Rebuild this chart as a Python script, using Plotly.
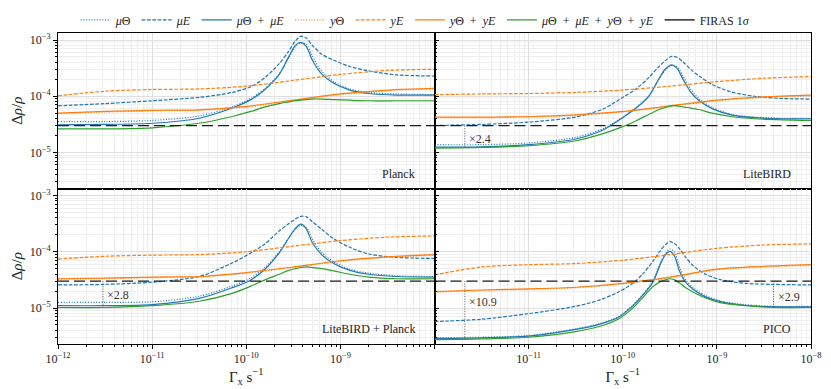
import math
import plotly.graph_objects as go
from plotly.subplots import make_subplots

# ---- values (Gamma_x in s^-1, Delta rho / rho) ----
FIRAS = 3e-5

GAMMA_COARSE = [1e-12, 3.16e-12, 1e-11, 3.16e-11, 1e-10, 3.16e-10, 1e-9, 3.16e-9, 1e-8]

# Planck
GAMMA_PLANCK = [1e-12, 3.16e-12, 1e-11, 3.16e-11, 7.08e-11, 1.12e-10, 1.58e-10, 2.24e-10, 2.82e-10, 3.31e-10,
                3.80e-10, 4.37e-10, 5.01e-10, 6.31e-10, 8.51e-10, 1.26e-9, 2.0e-9, 3.98e-9, 1e-8]
PLANCK_MU_THETA = [3.55e-5, 3.55e-5, 3.72e-5, 4.47e-5, 6.46e-5, 9.12e-5, 1.38e-4, 2.51e-4, 4.79e-4, 7.59e-4,
                   8.91e-4, 8.32e-4, 5.25e-4, 2.82e-4, 1.82e-4, 1.35e-4, 1.17e-4, 1.10e-4, 1.07e-4]
PLANCK_MU_E = [6.76e-5, 7.41e-5, 8.32e-5, 9.55e-5, 1.17e-4, 1.48e-4, 2.14e-4, 3.80e-4, 6.31e-4, 9.55e-4,
               1.17e-3, 1.07e-3, 8.13e-4, 5.62e-4, 4.37e-4, 3.39e-4, 2.82e-4, 2.40e-4, 2.29e-4]
PLANCK_MU = [3.09e-5, 3.16e-5, 3.31e-5, 4.07e-5, 6.17e-5, 8.71e-5, 1.32e-4, 2.45e-4, 5.01e-4, 7.94e-4,
             9.12e-4, 7.59e-4, 4.47e-4, 2.51e-4, 1.70e-4, 1.29e-4, 1.12e-4, 1.05e-4, 1.05e-4]
PLANCK_TOTAL = [2.63e-5, 2.63e-5, 2.75e-5, 3.31e-5, 4.37e-5, 5.37e-5, 6.46e-5, 7.41e-5, 7.94e-5, 8.32e-5,
                8.51e-5, 8.71e-5, 8.91e-5, 8.91e-5, 8.71e-5, 8.51e-5, 8.32e-5, 8.32e-5, 8.32e-5]
PLANCK_Y_THETA = [4.90e-5, 5.25e-5, 5.50e-5, 5.62e-5, 6.46e-5, 8.32e-5, 1.07e-4, 1.26e-4, 1.35e-4]
PLANCK_Y_E = [1.02e-4, 1.23e-4, 1.32e-4, 1.35e-4, 1.51e-4, 1.91e-4, 2.45e-4, 2.88e-4, 3.02e-4]
PLANCK_Y = [5.01e-5, 5.37e-5, 5.62e-5, 5.75e-5, 6.61e-5, 8.51e-5, 1.10e-4, 1.29e-4, 1.38e-4]

# LiteBIRD
GAMMA_LB = [1e-12, 3.16e-12, 1e-11, 3.16e-11, 6.31e-11, 1e-10, 1.41e-10, 1.91e-10, 2.40e-10, 2.82e-10,
            3.31e-10, 3.80e-10, 4.37e-10, 5.25e-10, 6.61e-10, 8.91e-10, 1.41e-9, 2.51e-9, 5.01e-9, 1e-8]
LB_MU_THETA = [1.38e-5, 1.38e-5, 1.48e-5, 1.86e-5, 2.69e-5, 4.27e-5, 6.46e-5, 1.05e-4, 1.95e-4, 2.88e-4,
               3.55e-4, 3.31e-4, 2.29e-4, 1.35e-4, 8.71e-5, 6.31e-5, 4.79e-5, 4.27e-5, 4.07e-5, 4.07e-5]
LB_MU_E = [3.02e-5, 3.16e-5, 3.47e-5, 4.27e-5, 6.03e-5, 9.55e-5, 1.38e-4, 2.19e-4, 3.31e-4, 4.27e-4,
           5.13e-4, 4.90e-4, 4.07e-4, 3.02e-4, 2.24e-4, 1.62e-4, 1.20e-4, 1.0e-4, 9.12e-5, 8.91e-5]
LB_MU = [1.245e-5, 1.26e-5, 1.38e-5, 1.74e-5, 2.57e-5, 4.17e-5, 6.31e-5, 1.02e-4, 2.0e-4, 3.02e-4,
         3.63e-4, 3.09e-4, 2.0e-4, 1.20e-4, 8.13e-5, 6.03e-5, 4.68e-5, 4.17e-5, 3.98e-5, 3.98e-5]
LB_TOTAL = [1.20e-5, 1.23e-5, 1.32e-5, 1.62e-5, 2.19e-5, 2.88e-5, 3.72e-5, 4.79e-5, 5.75e-5, 6.31e-5,
            6.76e-5, 6.76e-5, 6.46e-5, 6.17e-5, 5.75e-5, 5.01e-5, 4.37e-5, 3.98e-5, 3.80e-5, 3.72e-5]
LB_Y_THETA = [4.17e-5, 4.17e-5, 4.27e-5, 4.57e-5, 5.25e-5, 6.61e-5, 8.32e-5, 9.55e-5, 1.02e-4]
LB_Y_E = [1.07e-4, 1.10e-4, 1.12e-4, 1.17e-4, 1.29e-4, 1.51e-4, 1.82e-4, 2.09e-4, 2.24e-4]
LB_Y = [4.27e-5, 4.27e-5, 4.37e-5, 4.68e-5, 5.37e-5, 6.76e-5, 8.51e-5, 9.77e-5, 1.05e-4]

# LiteBIRD + Planck
GAMMA_LBP = GAMMA_PLANCK
LBP_MU_THETA = [1.26e-5, 1.26e-5, 1.29e-5, 1.62e-5, 2.45e-5, 3.39e-5, 5.25e-5, 1.0e-4, 1.78e-4, 2.51e-4,
                2.95e-4, 2.69e-4, 1.70e-4, 9.77e-5, 6.61e-5, 4.90e-5, 4.17e-5, 3.72e-5, 3.63e-5]
LBP_MU_E = [2.57e-5, 2.63e-5, 2.88e-5, 3.63e-5, 6.31e-5, 9.55e-5, 1.38e-4, 2.34e-4, 3.16e-4, 3.80e-4,
            4.27e-4, 4.17e-4, 3.47e-4, 2.51e-4, 1.70e-4, 1.20e-4, 9.12e-5, 7.94e-5, 7.59e-5]
LBP_MU = [1.10e-5, 1.10e-5, 1.15e-5, 1.48e-5, 2.29e-5, 3.16e-5, 4.90e-5, 9.55e-5, 1.74e-4, 2.57e-4,
          3.09e-4, 2.51e-4, 1.48e-4, 8.91e-5, 6.17e-5, 4.68e-5, 3.98e-5, 3.63e-5, 3.55e-5]
LBP_TOTAL = [1.02e-5, 1.02e-5, 1.10e-5, 1.32e-5, 1.82e-5, 2.45e-5, 3.16e-5, 3.98e-5, 4.68e-5, 5.01e-5,
             5.25e-5, 5.37e-5, 5.25e-5, 5.01e-5, 4.57e-5, 3.98e-5, 3.55e-5, 3.31e-5, 3.31e-5]
LBP_Y_THETA = [3.24e-5, 3.31e-5, 3.47e-5, 3.55e-5, 4.17e-5, 5.25e-5, 6.76e-5, 7.94e-5, 8.71e-5]
LBP_Y_E = [7.41e-5, 8.32e-5, 8.71e-5, 8.91e-5, 1.0e-4, 1.26e-4, 1.58e-4, 1.82e-4, 1.91e-4]
LBP_Y = [3.31e-5, 3.39e-5, 3.55e-5, 3.63e-5, 4.27e-5, 5.37e-5, 6.92e-5, 8.13e-5, 8.91e-5]

# PICO
GAMMA_PICO = [1e-12, 3.16e-12, 1e-11, 3.16e-11, 5.62e-11, 8.91e-11, 1.26e-10, 1.66e-10, 2.09e-10, 2.51e-10,
              2.82e-10, 3.16e-10, 3.55e-10, 3.98e-10, 4.68e-10, 5.62e-10, 7.59e-10, 1.12e-9, 2.0e-9, 3.98e-9, 1e-8]
PICO_MU_THETA = [2.95e-6, 3.02e-6, 3.24e-6, 4.27e-6, 5.25e-6, 6.92e-6, 1.10e-5, 1.78e-5, 3.02e-5, 6.31e-5,
                 9.12e-5, 1.12e-4, 1.0e-4, 5.50e-5, 3.16e-5, 2.29e-5, 1.66e-5, 1.32e-5, 1.15e-5, 1.07e-5, 1.07e-5]
PICO_MU_E = [5.75e-6, 6.31e-6, 7.94e-6, 1.07e-5, 1.38e-5, 1.91e-5, 2.69e-5, 4.17e-5, 6.76e-5, 1.05e-4,
             1.32e-4, 1.51e-4, 1.41e-4, 1.15e-4, 7.94e-5, 5.62e-5, 3.98e-5, 3.16e-5, 2.75e-5, 2.63e-5, 2.57e-5]
PICO_MU = [2.88e-6, 2.95e-6, 3.16e-6, 4.17e-6, 5.13e-6, 6.76e-6, 1.07e-5, 1.74e-5, 2.88e-5, 6.03e-5,
           8.71e-5, 1.02e-4, 8.32e-5, 4.68e-5, 2.82e-5, 2.14e-5, 1.58e-5, 1.29e-5, 1.12e-5, 1.05e-5, 1.05e-5]
PICO_TOTAL = [2.75e-6, 2.82e-6, 3.02e-6, 3.80e-6, 4.68e-6, 6.31e-6, 9.77e-6, 1.58e-5, 2.40e-5, 2.95e-5,
              3.16e-5, 3.31e-5, 3.16e-5, 2.82e-5, 2.29e-5, 1.91e-5, 1.51e-5, 1.23e-5, 1.10e-5, 1.02e-5, 1.02e-5]
PICO_Y_THETA = [1.91e-5, 2.04e-5, 2.14e-5, 2.29e-5, 2.69e-5, 3.47e-5, 4.79e-5, 5.37e-5, 5.75e-5]
PICO_Y_E = [3.89e-5, 5.37e-5, 5.89e-5, 6.17e-5, 7.08e-5, 8.91e-5, 1.15e-4, 1.32e-4, 1.38e-4]
PICO_Y = [1.95e-5, 2.09e-5, 2.19e-5, 2.34e-5, 2.75e-5, 3.55e-5, 4.90e-5, 5.50e-5, 5.89e-5]

PANEL_NAMES = ["Planck", "LiteBIRD", "LiteBIRD + Planck", "PICO"]

# improvement factors w.r.t. FIRAS: (panel, Gamma, lower value, label)
GAP_PANEL = [2, 3, 4, 4]
GAP_GAMMA = [2.1e-12, 3.0e-12, 2.1e-12, 4.0e-9]
GAP_LOW = [1.245e-5, 1.07e-5, 2.75e-6, 1.03e-5]
GAP_LABEL = ["×2.4", "×2.8", "×10.9", "×2.9"]

BLUE, ORANGE, GREEN = "#1f77b4", "#ff7f0e", "#2ca02c"
FONT = "Liberation Serif"
TXT = "#222222"
PLUS = "\u2002+\u2002"

panels = [
    (1, 1, GAMMA_PLANCK, PLANCK_MU_THETA, PLANCK_MU_E, PLANCK_MU, PLANCK_TOTAL, PLANCK_Y_THETA, PLANCK_Y_E, PLANCK_Y),
    (1, 2, GAMMA_LB, LB_MU_THETA, LB_MU_E, LB_MU, LB_TOTAL, LB_Y_THETA, LB_Y_E, LB_Y),
    (2, 1, GAMMA_LBP, LBP_MU_THETA, LBP_MU_E, LBP_MU, LBP_TOTAL, LBP_Y_THETA, LBP_Y_E, LBP_Y),
    (2, 2, GAMMA_PICO, PICO_MU_THETA, PICO_MU_E, PICO_MU, PICO_TOTAL, PICO_Y_THETA, PICO_Y_E, PICO_Y),
]

fig = make_subplots(rows=2, cols=2, horizontal_spacing=0, vertical_spacing=0)

DOT = "1px,1.7px"
DASH = "3.7px,1.6px"

for i, (row, col, gam, mu_th, mu_e, mu, tot, y_th, y_e, y) in enumerate(panels):
    first = i == 0
    series = [
        (gam, mu_th, "<i>μ</i>Θ", BLUE, DOT),
        (gam, mu_e, "<i>μE</i>", BLUE, DASH),
        (gam, mu, "<i>μ</i>Θ" + PLUS + "<i>μE</i>", BLUE, "solid"),
        (GAMMA_COARSE, y_th, "<i>y</i>Θ", ORANGE, DOT),
        (GAMMA_COARSE, y_e, "<i>yE</i>", ORANGE, DASH),
        (GAMMA_COARSE, y, "<i>y</i>Θ" + PLUS + "<i>yE</i>", ORANGE, "solid"),
        (gam, tot, "<i>μ</i>Θ" + PLUS + "<i>μE</i>" + PLUS + "<i>y</i>Θ" + PLUS + "<i>yE</i>", GREEN, "solid"),
    ]
    for xs, ys, name, color, dash in series:
        fig.add_trace(go.Scatter(
            x=xs, y=ys, mode="lines", name=name, showlegend=first,
            line=dict(color=color, dash=dash, width=1.2, shape="spline", smoothing=0.8)
        ), row=row, col=col)
    fig.add_trace(go.Scatter(
        x=[1e-12, 1e-8], y=[FIRAS, FIRAS], mode="lines", showlegend=False,
        line=dict(color="#1a1a1a", dash="11px,5px", width=1.2)
    ), row=row, col=col)

# legend handle for FIRAS (drawn solid like the reference legend)
fig.add_trace(go.Scatter(x=[None], y=[None], mode="lines", name="FIRAS 1<i>σ</i>",
                         line=dict(color="black", width=1.2)), row=1, col=1)

# vertical markers of improvement over FIRAS
label_frac = [0.6, 0.55, 0.36, 0.6]
for k in range(len(GAP_PANEL)):
    p = GAP_PANEL[k] - 1
    row, col = panels[p][0], panels[p][1]
    fig.add_trace(go.Scatter(
        x=[GAP_GAMMA[k], GAP_GAMMA[k]], y=[FIRAS, GAP_LOW[k]], mode="lines", showlegend=False,
        line=dict(color="#555555", dash="1px,1.5px", width=1)
    ), row=row, col=col)
    # annotations on log axes take log10 coordinates
    ylab = math.log10(FIRAS) + label_frac[k] * (math.log10(GAP_LOW[k]) - math.log10(FIRAS))
    xr = "x" if p == 0 else "x%d" % (p + 1)
    yr = "y" if p == 0 else "y%d" % (p + 1)
    fig.add_annotation(x=math.log10(GAP_GAMMA[k]), y=ylab, xref=xr, yref=yr, text=GAP_LABEL[k],
                       showarrow=False, xanchor="left", yanchor="middle", xshift=2,
                       font=dict(family=FONT, size=12, color="#333333"))

# panel names
for p, name in enumerate(PANEL_NAMES):
    xr = "x domain" if p == 0 else "x%d domain" % (p + 1)
    yr = "y domain" if p == 0 else "y%d domain" % (p + 1)
    fig.add_annotation(x=1, y=0, xref=xr, yref=yr, text=name, showarrow=False,
                       xanchor="right", yanchor="bottom", xshift=-18, yshift=6,
                       font=dict(family=FONT, size=12, color=TXT))

X_MAJOR = [1e-12, 1e-11, 1e-10, 1e-9, 1e-8]
X_MINOR = [k * 10.0 ** e for e in range(-12, -8) for k in range(2, 10)]
Y_MAJOR = [1e-5, 1e-4, 1e-3]
Y_MINOR = [k * 10.0 ** e for e in range(-6, -2) for k in range(2, 10)]

fig.update_xaxes(
    type="log", range=[-12, -8], showline=True, linecolor="black", linewidth=1, mirror=True,
    showgrid=True, gridcolor="#dedede", gridwidth=0.8, zeroline=False, automargin=False,
    tickmode="array", tickvals=X_MAJOR, ticks="", showticklabels=False,
    minor=dict(tickmode="array", tickvals=X_MINOR, showgrid=True, gridcolor="#efefef", gridwidth=0.8, ticks=""),
    tickfont=dict(family=FONT, size=12, color=TXT),
)
fig.update_xaxes(row=2, ticks="outside", ticklen=4, tickcolor="black", showticklabels=True,
                 minor=dict(ticks="outside", ticklen=2, tickcolor="black"),
                 title=dict(text="Γ<sub>x</sub> s<sup>−1</sup>", standoff=0,
                            font=dict(family=FONT, size=15, color=TXT)))
fig.update_xaxes(row=2, col=1, ticktext=["10<sup>−12</sup>", "10<sup>−11</sup>", "10<sup>−10</sup>", "10<sup>−9</sup>", ""])
fig.update_xaxes(row=2, col=2, ticktext=["", "10<sup>−11</sup>", "10<sup>−10</sup>", "10<sup>−9</sup>", "10<sup>−8</sup>"])

fig.update_yaxes(
    type="log", range=[-5.64, -2.875], showline=True, linecolor="black", linewidth=1, mirror=True,
    showgrid=True, gridcolor="#dedede", gridwidth=0.8, zeroline=False, automargin=False,
    tickmode="array", tickvals=Y_MAJOR, ticks="inside", ticklen=4, tickcolor="black", showticklabels=False,
    minor=dict(tickmode="array", tickvals=Y_MINOR, showgrid=True, gridcolor="#efefef", gridwidth=0.8,
               ticks="inside", ticklen=2, tickcolor="black"),
    tickfont=dict(family=FONT, size=12, color=TXT),
)
fig.update_yaxes(col=1, ticks="outside", showticklabels=True,
                 ticktext=["10<sup>−5</sup>", "10<sup>−4</sup>", "10<sup>−3</sup>"],
                 minor=dict(ticks="outside"),
                 title=dict(text="Δ<i>ρ</i>/<i>ρ</i>", standoff=3,
                            font=dict(family=FONT, size=15, color=TXT)))

# the page body adds an 8 px margin, so the figure is drawn 8 px smaller and offset
fig.update_layout(
    width=823, height=381,
    margin=dict(l=50, r=20, t=25, b=45, autoexpand=False),
    paper_bgcolor="white", plot_bgcolor="white",
    font=dict(family=FONT, size=12, color=TXT),
    legend=dict(orientation="h", x=0.475, xanchor="center", y=1.042, yanchor="middle",
                font=dict(family=FONT, size=12, color=TXT), itemwidth=30,
                bgcolor="rgba(0,0,0,0)"),
)

fig.write_html("out.html")
